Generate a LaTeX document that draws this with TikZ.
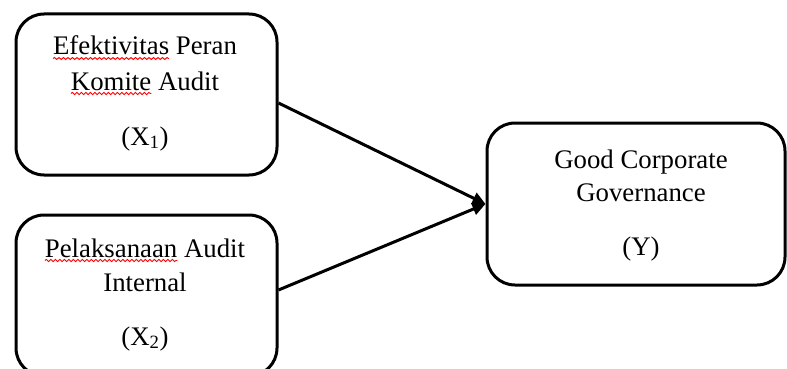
\documentclass[tikz,border=0pt]{standalone}
\usepackage{fontspec}
\setmainfont{Liberation Serif}
\usetikzlibrary{arrows.meta,decorations.pathmorphing}
\newcommand\labelfont{\fontsize{26.8}{34}\selectfont}
\tikzset{
  varbox/.style={draw=black,line width=3pt,rounded corners=28pt,
    minimum width=261pt,minimum height=161pt,inner sep=0pt},
  label/.style={inner sep=0pt,outer sep=0pt,anchor=base,font=\labelfont},
  wordmark/.style={inner sep=0pt,outer sep=0pt,anchor=base west,font=\labelfont},
  spellwave/.style={red,line width=0.9pt,decorate,decoration={snake,amplitude=1.1pt,segment length=4.5pt}},
  link/.style={line width=3pt,-{Triangle[length=13pt,width=12pt]}}
}
\begin{document}
\begin{tikzpicture}[x=1pt,y=-1pt]
\useasboundingbox (0,0) rectangle (787,369);
\clip (0,0) rectangle (787,369);
% boxes
\node[varbox] (x1) at (146.5,94.5) {};
\node[varbox] (x2) at (146.5,295.5) {};
\node[varbox,minimum width=298pt,minimum height=162pt] (y) at (636,204) {};
% texts
\node[label] (x1a) at (145,55) {Efektivitas Peran};
\node[label] (x1b) at (145,90) {Komite Audit};
\node[label] (x1c) at (145,145) {(X\textsubscript{1})};
\node[label] (x2a) at (145,257) {Pelaksanaan Audit};
\node[label] (x2b) at (145,291) {Internal};
\node[label] (x2c) at (145,345) {(X\textsubscript{2})};
\node[label] (ya) at (641,168) {Good Corporate};
\node[label] (yb) at (641,201) {Governance};
\node[label] (yc) at (641,255) {(Y)};
% words marked by the spell checker
\node[wordmark] (w1) at (x1a.base west) {\phantom{Efektivitas}};
\node[wordmark] (w2) at (x1b.base west) {\phantom{Komite}};
\node[wordmark] (w3) at (x2a.base west) {\phantom{Pelaksanaan}};
\draw[spellwave] ([yshift=-3.5pt]w1.base west) -- ([yshift=-3.5pt]w1.base east);
\draw[spellwave] ([yshift=-3.5pt]w2.base west) -- ([yshift=-3.5pt]w2.base east);
\draw[spellwave] ([yshift=-3.5pt]w3.base west) -- ([yshift=-3.5pt]w3.base east);
% connectors
\draw[link] ([yshift=-8.5pt]x1.east) -- (y.west);
\draw[link] ([yshift=5.5pt]x2.east) -- (y.west);
\end{tikzpicture}
\end{document}
